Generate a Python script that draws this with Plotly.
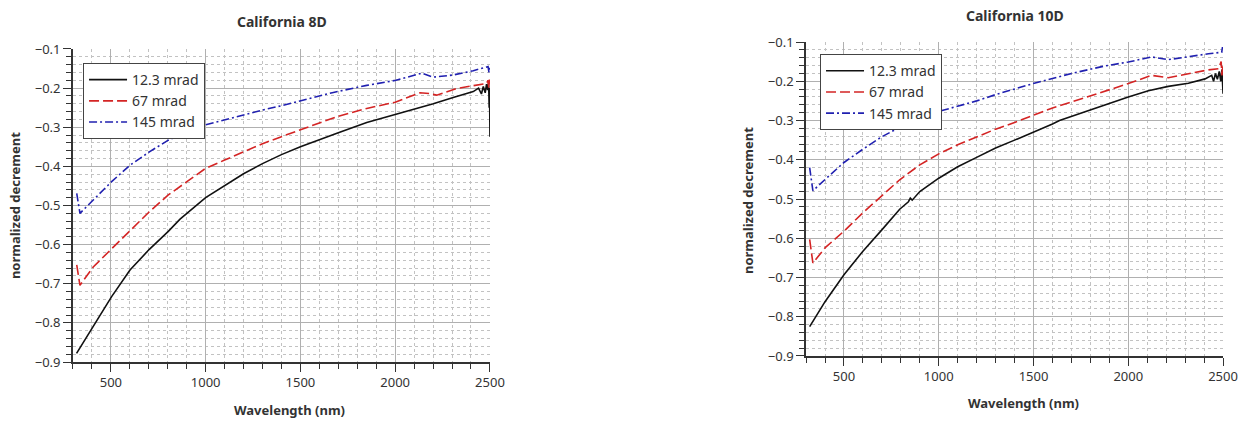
import plotly.graph_objects as go

# ---- California 8D ----
wl_8d_k = [319, 407, 504, 601, 703, 803, 865, 1000, 1100, 1200, 1300, 1400, 1500, 1600, 1700, 1850,
           2000, 2132, 2201, 2306, 2412, 2440, 2455, 2465, 2475, 2482, 2488, 2493, 2496, 2498, 2500]
nd_8d_k = [-0.878, -0.810, -0.733, -0.665, -0.612, -0.566, -0.535, -0.480, -0.449, -0.419, -0.393,
           -0.370, -0.350, -0.331, -0.314, -0.288, -0.268, -0.251, -0.240, -0.224, -0.209, -0.200,
           -0.215, -0.196, -0.212, -0.190, -0.205, -0.185, -0.250, -0.200, -0.324]

wl_8d_r = [320, 330, 337, 407, 504, 601, 703, 803, 865, 1000, 1100, 1200, 1300, 1400, 1500, 1600,
           1700, 1850, 2000, 2131, 2180, 2219, 2324, 2430, 2482, 2490, 2494, 2497, 2500]
nd_8d_r = [-0.652, -0.690, -0.704, -0.657, -0.610, -0.563, -0.516, -0.473, -0.451, -0.405, -0.384,
           -0.363, -0.342, -0.324, -0.306, -0.289, -0.272, -0.252, -0.236, -0.212, -0.214, -0.218,
           -0.201, -0.192, -0.188, -0.180, -0.200, -0.178, -0.195]

wl_8d_b = [320, 328, 337, 407, 504, 601, 703, 803, 905, 1000, 1100, 1200, 1300, 1400, 1500, 1674,
           1850, 2004, 2140, 2201, 2306, 2412, 2490, 2495, 2500]
nd_8d_b = [-0.469, -0.500, -0.520, -0.486, -0.439, -0.397, -0.363, -0.333, -0.311, -0.294, -0.281,
           -0.268, -0.256, -0.245, -0.233, -0.211, -0.193, -0.180, -0.162, -0.172, -0.1665, -0.1555,
           -0.145, -0.160, -0.145]

# ---- California 10D ----
wl_10d_k = [319, 401, 500, 600, 701, 794, 840, 850, 860, 900, 1000, 1100, 1200, 1300, 1400, 1500,
            1600, 1637, 1750, 1848, 2000, 2106, 2211, 2317, 2405, 2440, 2450, 2460, 2470, 2480,
            2488, 2494, 2498, 2500]
nd_10d_k = [-0.825, -0.761, -0.693, -0.633, -0.578, -0.526, -0.507, -0.498, -0.503, -0.481, -0.447,
            -0.418, -0.394, -0.370, -0.350, -0.330, -0.309, -0.300, -0.281, -0.264, -0.240, -0.224,
            -0.213, -0.205, -0.194, -0.185, -0.200, -0.180, -0.195, -0.175, -0.200, -0.170, -0.215,
            -0.232]

wl_10d_r = [319, 328, 336, 401, 500, 600, 701, 794, 900, 1000, 1100, 1200, 1300, 1400, 1500, 1600,
            1700, 1848, 2000, 2123, 2211, 2317, 2423, 2476, 2490, 2494, 2497, 2500]
nd_10d_r = [-0.603, -0.640, -0.663, -0.624, -0.582, -0.535, -0.490, -0.451, -0.413, -0.385, -0.362,
            -0.341, -0.322, -0.305, -0.287, -0.268, -0.253, -0.230, -0.206, -0.185, -0.191, -0.181,
            -0.171, -0.168, -0.150, -0.185, -0.160, -0.175]

wl_10d_b = [319, 328, 336, 401, 500, 600, 701, 803, 900, 1000, 1100, 1200, 1300, 1401, 1504, 1701,
            1877, 2000, 2123, 2211, 2317, 2423, 2493, 2497, 2500]
nd_10d_b = [-0.420, -0.455, -0.479, -0.450, -0.407, -0.373, -0.341, -0.315, -0.294, -0.277, -0.263,
            -0.250, -0.234, -0.220, -0.205, -0.180, -0.161, -0.151, -0.138, -0.145, -0.137, -0.130,
            -0.126, -0.113, -0.125]

labels = ["12.3 mrad", "67 mrad", "145 mrad"]
colors = ["#111111", "#d42424", "#2020b0"]
dashes = ["solid", "10px,4px", "8px,3px,2px,3px"]

FONT = "Noto Sans"
TXT = "#333333"

fig = go.Figure()

panels = [
    ("x", "y", "legend", [(wl_8d_k, nd_8d_k), (wl_8d_r, nd_8d_r), (wl_8d_b, nd_8d_b)]),
    ("x2", "y2", "legend2", [(wl_10d_k, nd_10d_k), (wl_10d_r, nd_10d_r), (wl_10d_b, nd_10d_b)]),
]
for xa, ya, lg, series in panels:
    for (wl, nd), name, col, dsh in zip(series, labels, colors, dashes):
        fig.add_trace(go.Scatter(
            x=wl, y=nd, mode="lines", name=name, xaxis=xa, yaxis=ya, legend=lg,
            line=dict(color=col, width=1.6, dash=dsh),
        ))

MINOR_GRID = dict(showgrid=True, gridcolor="#c2c2c2", griddash="3px,3px", gridwidth=1)


def xaxis_cfg(domain, anchor):
    return dict(
        domain=domain, anchor=anchor, range=[300, 2500], tick0=0, dtick=500,
        automargin=False,
        showline=True, linecolor="#333333", linewidth=1.6, zeroline=False,
        ticks="outside", ticklen=8, tickwidth=1.2, tickcolor="#333333",
        showgrid=True, gridcolor="#b0b0b0", gridwidth=1.2,
        tickfont=dict(family=FONT, size=13, color=TXT),
        minor=dict(dtick=100, tick0=0, ticks="outside", ticklen=5, tickwidth=1.1,
                   tickcolor="#333333", **MINOR_GRID),
    )


def yaxis_cfg(domain, anchor):
    return dict(
        domain=domain, anchor=anchor, range=[-0.9, -0.1], tick0=0, dtick=0.1,
        automargin=False,
        showline=True, linecolor="#333333", linewidth=1.6, zeroline=False,
        ticks="outside", ticklen=8, tickwidth=1.2, tickcolor="#333333",
        showgrid=True, gridcolor="#b0b0b0", gridwidth=1.2,
        tickfont=dict(family=FONT, size=13, color=TXT),
        minor=dict(dtick=0.02, tick0=0, ticks="outside", ticklen=5, tickwidth=1.1,
                   tickcolor="#333333", **MINOR_GRID),
    )


legend_style = dict(
    xanchor="left", yanchor="top", bgcolor="white", bordercolor="#444444", borderwidth=1,
    font=dict(family=FONT, size=14, color=TXT), tracegroupgap=0, itemwidth=38,
)

fig.update_layout(
    template="none",
    width=1247, height=423,
    margin=dict(l=0, r=0, t=0, b=0, pad=0, autoexpand=False),
    paper_bgcolor="white", plot_bgcolor="white",
    showlegend=True,
    xaxis=xaxis_cfg([0.0585, 0.3929], "y"),
    yaxis=yaxis_cfg([0.1442, 0.8842], "x"),
    xaxis2=xaxis_cfg([0.6464, 0.9808], "y2"),
    yaxis2=yaxis_cfg([0.1584, 0.9007], "x2"),
    legend=dict(x=0.0666, y=0.851, **legend_style),
    legend2=dict(x=0.6576, y=0.872, **legend_style),
)

bold = dict(family=FONT, size=14, color=TXT)
axis_bold = dict(family=FONT, size=13, color=TXT)
annots = [
    dict(text="<b>California 8D</b>", x=0.2261, y=0.948, font=bold),
    dict(text="<b>California 10D</b>", x=0.814, y=0.9645, font=bold),
    dict(text="<b>Wavelength (nm)</b>", x=0.2318, y=0.0307, font=axis_bold),
    dict(text="<b>Wavelength (nm)</b>", x=0.821, y=0.0473, font=axis_bold),
    dict(text="<b>normalized decrement</b>", x=0.012, y=0.515, textangle=-90, font=axis_bold),
    dict(text="<b>normalized decrement</b>", x=0.5998, y=0.527, textangle=-90, font=axis_bold),
]
for a in annots:
    fig.add_annotation(xref="paper", yref="paper", showarrow=False,
                       xanchor="center", yanchor="middle", **a)

fig.write_html("out.html")
